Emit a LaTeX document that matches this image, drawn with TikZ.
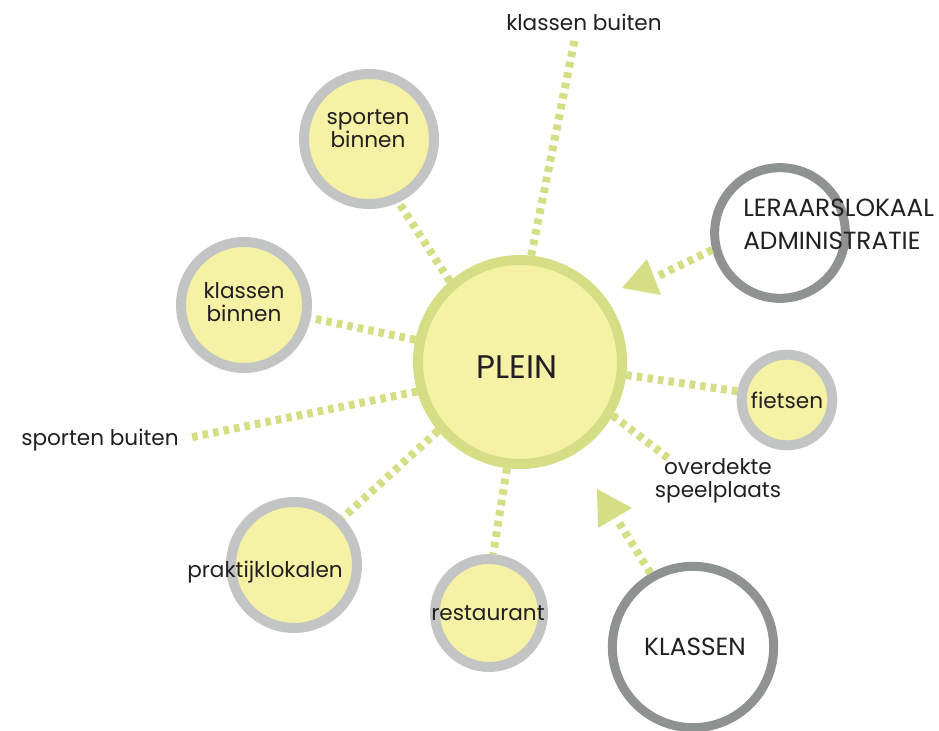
\documentclass[tikz,border=0pt]{standalone}
\usepackage{fontspec}
\setmainfont{Poppins}
\definecolor{fillY}{HTML}{F5F1A5}
\definecolor{ringY}{HTML}{D5DD85}
\definecolor{ringG}{HTML}{C3C5C4}
\definecolor{ringD}{HTML}{8E9291}
\definecolor{txt}{HTML}{231F20}
\tikzset{
  yc/.style={circle,fill=fillY,draw=ringY,line width=7.5pt,inner sep=0pt},
  gc/.style={circle,fill=fillY,draw=ringG,line width=7.5pt,inner sep=0pt},
  dc/.style={circle,fill=white,draw=ringD,line width=6.75pt,inner sep=0pt},
  lbl/.style={text=txt,font=\fontsize{16.2}{17.5}\selectfont,align=center,inner sep=0pt},
  caplbl/.style={text=txt,font=\fontsize{18.6}{24.75}\selectfont,align=left,inner sep=0pt},
  dl/.style={draw=ringY,line width=6pt,dash pattern=on 4.2pt off 3.8pt},
  tri/.style={fill=ringY,draw=none}
}
\begin{document}
\begin{tikzpicture}[x=0.75pt,y=-0.75pt]
\useasboundingbox (0,0) rectangle (939,731);
% circles
\node[yc,minimum size=153pt] (plein) at (520,362) {};
\node[gc,minimum size=97.5pt] (sb) at (369,139) {};
\node[gc,minimum size=94.5pt] (kb) at (244,305) {};
\node[gc,minimum size=94.5pt] (pk) at (294,565) {};
\node[gc,minimum size=81pt] (rs) at (489,613) {};
\node[gc,minimum size=68pt] (fi) at (787,400) {};
\node[dc,minimum size=98pt] (ler) at (780,233) {};
\node[dc,minimum size=121pt] (kl) at (693,647) {};
% free ends
\coordinate (kbu) at (575,38);
\coordinate (spb) at (188,438);
\coordinate (ovd) at (668,458);
\coordinate (lerend) at (656,277);
\coordinate (klend) at (618,521);
% connectors
\draw[dl] (plein.84) -- (kbu);
\draw[dl] (plein.131) -- (sb.-65);
\draw[dl] (plein.168) -- (kb.-11);
\draw[dl] (plein.196) -- (spb);
\draw[dl] (plein.220) -- (pk.44);
\draw[dl] (plein.263) -- (rs.86);
\draw[dl] (plein.-7) -- (fi.170);
\draw[dl] (plein.-30) -- (ovd);
\draw[dl] (ler.194) -- (lerend);
\draw[dl] (kl.120) -- (klend);
% arrowheads
\path[tri] (622,288) -- (647,259) -- (661,295) -- cycle;
\path[tri] (597,489) -- (632,508) -- (598,528) -- cycle;
% labels
\node[text=txt,font=\fontsize{24.5}{28}\selectfont,inner sep=0pt] (tplein) at (517,367) {PLEIN};
\node[lbl] (tkbu) at (584,22) {klassen buiten};
\node[lbl] (tsb) at (368,129) {sporten\\binnen};
\node[lbl] (tkb) at (244,302) {klassen\\binnen};
\node[lbl] (tspb) at (100,440) {sporten buiten};
\node[lbl] (tpk) at (265,572) {praktijklokalen};
\node[lbl] (trs) at (488,613) {restaurant};
\node[lbl] (tfi) at (787,400) {fietsen};
\node[lbl] (tovd) at (718,481) {overdekte\\speelplaats};
\node[caplbl,anchor=west] (tler) at (743,224) {LERAARSLOKAAL\\ADMINISTRATIE};
\node[caplbl] (tkl) at (695,647) {KLASSEN};
\end{tikzpicture}
\end{document}
